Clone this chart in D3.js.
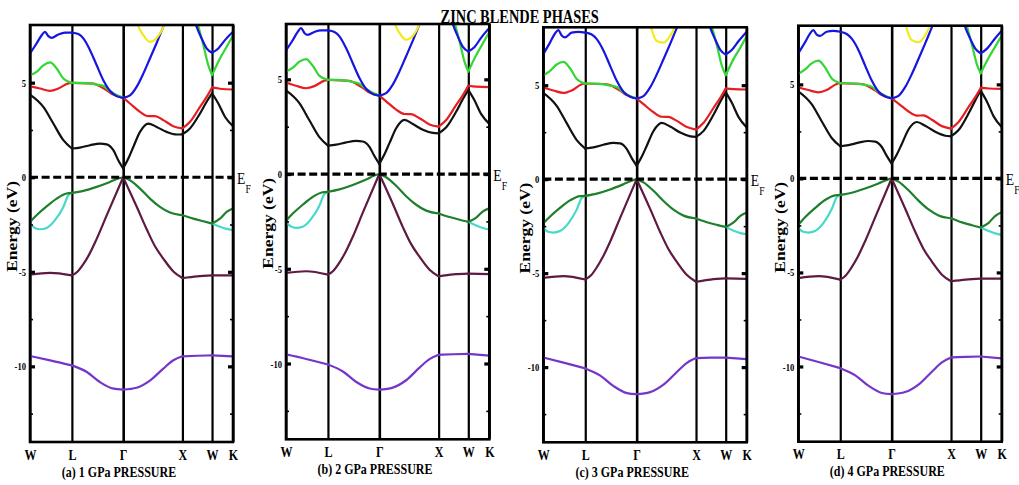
<!DOCTYPE html>
<html>
<head>
<meta charset="utf-8">
<script src="https://cdn.jsdelivr.net/npm/d3@7"></script>
<style>
  html, body { margin: 0; padding: 0; background: #fff; }
  svg { display: block; }
  text { font-family: "Liberation Serif", "Times New Roman", serif; fill: #000; }
</style>
</head>
<body>
<script>
// ---- high-symmetry path W-L-Γ-X-W-K (k in units of 2π/a) ----
const symK = [0, 0.707, 1.573, 2.573, 3.073, 3.427];
const symLabels = ["W", "L", "Γ", "X", "W", "K"];
const panelTitles = ["(a) 1 GPa PRESSURE", "(b) 2 GPa PRESSURE", "(c) 3 GPa PRESSURE", "(d) 4 GPa PRESSURE"];
const yMajorTicks = [-10, -5, 0, 5];
const yMinorTicks = [-12.5, -7.5, -2.5, 2.5];
const chartTitle = "ZINC BLENDE PHASES";

// ---- bands: k points, and energies (eV) for 1, 2, 3, 4 GPa ----
const purpleK = [0, 0.34, 0.707, 0.96, 1.18, 1.41, 1.573, 1.80, 2.03, 2.25, 2.42, 2.573, 2.82, 3.073, 3.427];
const purpleE = [
  [-9.45, -9.68, -9.95, -10.3, -10.83, -11.18, -11.23, -11.13, -10.74, -10.12, -9.68, -9.47, -9.44, -9.42, -9.47],
  [-9.52, -9.76, -10.05, -10.42, -10.96, -11.32, -11.38, -11.27, -10.87, -10.22, -9.77, -9.54, -9.51, -9.49, -9.58],
  [-9.49, -9.76, -10.07, -10.45, -11.0, -11.38, -11.44, -11.33, -10.92, -10.26, -9.77, -9.52, -9.5, -9.49, -9.57],
  [-9.47, -9.76, -10.09, -10.47, -11.02, -11.41, -11.47, -11.36, -10.95, -10.28, -9.78, -9.52, -9.49, -9.47, -9.57]
];

const maroonK = [0, 0.34, 0.707, 0.80, 0.90, 1.0, 1.12, 1.30, 1.573, 1.80, 1.97, 2.11, 2.25, 2.42, 2.573, 2.82, 3.073, 3.427];
const maroonE = [
  [-5.15, -5.06, -5.19, -5.0, -4.6, -4.08, -3.3, -1.98, 0, -1.55, -2.75, -3.65, -4.3, -4.98, -5.33, -5.24, -5.19, -5.19],
  [-5.22, -5.13, -5.31, -5.1, -4.68, -4.14, -3.35, -2.0, 0, -1.57, -2.8, -3.7, -4.36, -5.05, -5.4, -5.3, -5.26, -5.28],
  [-5.25, -5.16, -5.34, -5.13, -4.7, -4.16, -3.37, -2.02, 0, -1.58, -2.82, -3.73, -4.4, -5.1, -5.46, -5.34, -5.28, -5.3],
  [-5.3, -5.2, -5.38, -5.16, -4.72, -4.18, -3.38, -2.03, 0, -1.6, -2.84, -3.75, -4.42, -5.12, -5.47, -5.38, -5.33, -5.33]
];

const darkGreenK = [0, 0.11, 0.281, 0.45, 0.619, 0.707, 0.901, 1.126, 1.35, 1.49, 1.573, 1.688, 1.857, 2.025, 2.194, 2.363, 2.573, 2.757, 2.926, 3.073, 3.207, 3.32, 3.427];
const darkGreenE = [
  [-2.36, -2.01, -1.54, -1.13, -0.86, -0.83, -0.72, -0.51, -0.25, -0.07, 0, -0.16, -0.6, -1.13, -1.57, -1.87, -2.01, -2.19, -2.33, -2.45, -2.19, -1.83, -1.66],
  [-2.47, -2.1, -1.62, -1.21, -0.96, -0.94, -0.81, -0.58, -0.29, -0.08, 0, -0.17, -0.62, -1.17, -1.62, -1.93, -2.08, -2.27, -2.41, -2.52, -2.3, -1.97, -1.81],
  [-2.35, -2.0, -1.53, -1.13, -0.9, -0.89, -0.77, -0.55, -0.27, -0.08, 0, -0.17, -0.62, -1.16, -1.62, -1.94, -2.09, -2.29, -2.43, -2.54, -2.3, -1.95, -1.77],
  [-2.47, -2.08, -1.58, -1.15, -0.9, -0.88, -0.76, -0.54, -0.27, -0.08, 0, -0.17, -0.63, -1.18, -1.65, -1.97, -2.12, -2.34, -2.49, -2.61, -2.36, -1.99, -1.8]
];

// split-off branch, visible on W-L and W-K (null = hidden under the dark green band)
const cyanK = [0, 0.084, 0.169, 0.281, 0.422, 0.563, 0.647, 0.707, 2.0, 3.073, 3.207, 3.32, 3.427];
const cyanE = [
  [-2.48, -2.68, -2.75, -2.68, -2.27, -1.57, -0.95, -0.83, null, -2.45, -2.62, -2.73, -2.8],
  [-2.55, -2.77, -2.84, -2.78, -2.38, -1.67, -1.05, -0.94, null, -2.52, -2.72, -2.85, -2.93],
  [-2.6, -2.8, -2.84, -2.76, -2.35, -1.62, -1.0, -0.89, null, -2.54, -2.75, -2.87, -2.93],
  [-2.63, -2.84, -2.88, -2.8, -2.38, -1.63, -1.0, -0.88, null, -2.61, -2.8, -2.92, -3.0]
];

const blackK = [0, 0.225, 0.394, 0.563, 0.707, 0.844, 1.013, 1.182, 1.294, 1.407, 1.49, 1.573, 1.66, 1.744, 1.857, 1.997, 2.138, 2.307, 2.476, 2.573, 2.701, 2.87, 2.982, 3.073, 3.179, 3.291, 3.427];
const blackE = [
  [4.37, 3.72, 2.84, 1.96, 1.52, 1.57, 1.69, 1.78, 1.74, 1.43, 0.9, 0.46, 0.99, 1.6, 2.4, 2.84, 2.66, 2.4, 2.26, 2.27, 2.58, 3.37, 3.99, 4.43, 3.9, 3.2, 2.7],
  [4.41, 3.74, 2.84, 1.95, 1.5, 1.55, 1.67, 1.75, 1.72, 1.44, 0.95, 0.53, 1.04, 1.63, 2.42, 2.86, 2.64, 2.34, 2.17, 2.15, 2.47, 3.3, 3.96, 4.44, 3.88, 3.16, 2.65],
  [4.59, 3.9, 2.98, 2.08, 1.63, 1.69, 1.83, 1.93, 1.9, 1.6, 1.12, 0.71, 1.2, 1.78, 2.56, 2.99, 2.8, 2.48, 2.28, 2.25, 2.57, 3.44, 4.12, 4.63, 4.05, 3.3, 2.75],
  [4.63, 3.95, 3.04, 2.15, 1.71, 1.77, 1.9, 1.99, 1.96, 1.67, 1.2, 0.79, 1.27, 1.83, 2.6, 3.0, 2.8, 2.48, 2.27, 2.24, 2.57, 3.46, 4.15, 4.67, 4.08, 3.3, 2.73]
];

const redK = [0, 0.169, 0.338, 0.478, 0.647, 0.707, 1.069, 1.182, 1.294, 1.407, 1.573, 1.688, 1.857, 1.997, 2.11, 2.25, 2.419, 2.573, 2.701, 2.87, 2.982, 3.073, 3.207, 3.427];
const redE = [
  [4.81, 4.69, 4.57, 4.69, 4.96, 4.99, 4.95, 4.81, 4.6, 4.37, 4.2, 3.9, 3.46, 3.23, 3.23, 3.02, 2.7, 2.58, 2.93, 3.72, 4.25, 4.75, 4.68, 4.64],
  [4.83, 4.66, 4.53, 4.64, 4.93, 4.97, 4.92, 4.77, 4.55, 4.3, 4.14, 3.84, 3.4, 3.17, 3.16, 2.95, 2.62, 2.5, 2.85, 3.65, 4.17, 4.66, 4.61, 4.59],
  [4.88, 4.72, 4.59, 4.72, 5.05, 5.09, 5.05, 4.92, 4.71, 4.47, 4.29, 3.99, 3.56, 3.32, 3.31, 3.1, 2.77, 2.64, 3.0, 3.8, 4.33, 4.82, 4.79, 4.77],
  [4.85, 4.7, 4.58, 4.7, 5.02, 5.06, 5.02, 4.89, 4.68, 4.44, 4.26, 3.98, 3.56, 3.34, 3.35, 3.12, 2.78, 2.65, 3.0, 3.8, 4.32, 4.81, 4.78, 4.76]
];

const greenK = [0, 0.11, 0.225, 0.338, 0.45, 0.563, 0.707, 0.844, 1.013, 1.126, 1.238, 1.35, 1.573, 2.0, 2.70, 2.84, 2.926, 3.01, 3.073, 3.207, 3.32, 3.427];
const greenE = [
  [5.4, 5.57, 5.92, 6.07, 5.75, 5.22, 4.99, 4.99, 4.96, 4.9, 4.83, 4.55, 4.2, null, 9.3, 8.0, 7.0, 5.92, 5.4, 6.28, 6.9, 7.5],
  [5.41, 5.6, 5.93, 6.07, 5.72, 5.18, 4.97, 4.97, 4.93, 4.86, 4.77, 4.49, 4.14, null, 9.3, 8.0, 7.0, 5.92, 5.41, 6.28, 6.9, 7.5],
  [5.53, 5.75, 6.1, 6.24, 5.9, 5.33, 5.09, 5.08, 5.04, 4.98, 4.9, 4.62, 4.29, null, 9.4, 8.1, 7.1, 6.02, 5.53, 6.4, 7.0, 7.6],
  [5.56, 5.78, 6.12, 6.26, 5.9, 5.32, 5.06, 5.06, 5.03, 4.97, 4.88, 4.6, 4.26, null, 9.4, 8.1, 7.1, 6.05, 5.59, 6.42, 7.02, 7.6]
];

const blueK = [0, 0.11, 0.197, 0.253, 0.31, 0.366, 0.478, 0.591, 0.707, 0.816, 0.901, 1.013, 1.126, 1.238, 1.35, 1.463, 1.573, 1.688, 1.8, 1.913, 2.025, 2.138, 2.25, 2.40, 2.573, 2.70, 2.814, 2.898, 2.982, 3.073, 3.179, 3.291, 3.427];
const blueE = [
  [6.54, 7.07, 7.51, 7.69, 7.46, 7.37, 7.55, 7.65, 7.65, 7.57, 7.34, 6.72, 5.92, 5.13, 4.57, 4.29, 4.2, 4.33, 4.78, 5.48, 6.28, 7.1, 7.95, 9.0, 10.0, 9.2, 7.95, 7.34, 6.81, 6.58, 6.81, 7.25, 7.69],
  [6.52, 7.05, 7.5, 7.71, 7.45, 7.35, 7.5, 7.58, 7.58, 7.5, 7.27, 6.65, 5.85, 5.07, 4.5, 4.23, 4.14, 4.27, 4.72, 5.42, 6.22, 7.04, 7.9, 9.0, 10.0, 9.2, 7.9, 7.25, 6.71, 6.47, 6.71, 7.2, 7.71],
  [6.65, 7.25, 7.75, 7.93, 7.65, 7.54, 7.8, 7.84, 7.8, 7.7, 7.45, 6.85, 6.03, 5.23, 4.65, 4.38, 4.29, 4.42, 4.88, 5.58, 6.38, 7.2, 8.05, 9.1, 10.0, 9.3, 8.05, 7.42, 6.88, 6.63, 6.88, 7.35, 7.85],
  [6.65, 7.22, 7.7, 7.88, 7.65, 7.58, 7.8, 7.85, 7.8, 7.68, 7.43, 6.83, 6.0, 5.2, 4.62, 4.35, 4.26, 4.39, 4.85, 5.55, 6.35, 7.18, 8.03, 9.1, 10.0, 9.3, 8.03, 7.42, 6.9, 6.65, 6.9, 7.35, 7.85]
];

const yellowK = [1.76, 1.828, 1.913, 2.025, 2.11, 2.194, 2.26, 2.32];
const yellowE = [
  [8.9, 8.0, 7.51, 7.16, 7.28, 7.6, 8.0, 8.6],
  [8.9, 8.0, 7.45, 7.09, 7.2, 7.55, 8.0, 8.6],
  [8.9, 7.95, 7.35, 7.26, 7.5, 7.95, 8.5, 9.0],
  [8.9, 7.95, 7.35, 7.24, 7.48, 7.95, 8.5, 9.0]
];

// drawing order: valence bands first, conduction bands on top
const bands = [
  { k: cyanK, e: cyanE, color: "#45d9c9" },
  { k: darkGreenK, e: darkGreenE, color: "#1f7f2c" },
  { k: maroonK, e: maroonE, color: "#5e1a42" },
  { k: purpleK, e: purpleE, color: "#7436c9" },
  { k: blackK, e: blackE, color: "#111111" },
  { k: redK, e: redE, color: "#e61e22" },
  { k: greenK, e: greenE, color: "#33d633" },
  { k: blueK, e: blueE, color: "#1616e0" },
  { k: yellowK, e: yellowE, color: "#f2ea1c" }
];

// ---- panel frames (pixels) and the energy at each frame top ----
const frames = [
  { x0: 30,    x1: 233,    y0: 25,   y1: 442,   eTop: 8.05 },
  { x0: 286,   x1: 489.3,  y0: 24,   y1: 439.3, eTop: 7.92 },
  { x0: 543.3, x1: 746.7,  y0: 27.3, y1: 442.3, eTop: 8.08 },
  { x0: 798.3, x1: 1001.7, y0: 25.7, y1: 441.7, eTop: 8.12 }
];
const eBottom = -14;

const W = 1019, H = 485;
const svg = d3.select("body").append("svg").attr("width", W).attr("height", H);
svg.append("rect").attr("width", W).attr("height", H).attr("fill", "#fff");

// break a band into pieces at every high-symmetry point and at gaps
function bandSegments(ks, es) {
  const segs = [];
  let cur = [];
  for (let i = 0; i < ks.length; i++) {
    if (es[i] === null) { if (cur.length > 1) segs.push(cur); cur = []; continue; }
    cur.push([ks[i], es[i]]);
    const isSym = symK.some(s => Math.abs(s - ks[i]) < 1e-6);
    if (isSym && cur.length > 1) { segs.push(cur); cur = [[ks[i], es[i]]]; }
  }
  if (cur.length > 1) segs.push(cur);
  return segs;
}

// horizontally condensed text helper
function label(parent, x, y, str, size, opts = {}) {
  const sx = opts.sx || 0.8;
  const t = parent.append("text")
    .attr("transform", `translate(${x},${y}) scale(${sx},1)` + (opts.rotate ? ` rotate(${opts.rotate})` : ""))
    .attr("text-anchor", opts.anchor || "middle")
    .attr("font-size", size)
    .attr("font-weight", opts.weight || "bold")
    .text(str);
  return t;
}

frames.forEach((f, p) => {
  const x = d3.scaleLinear().domain([0, 3.427]).range([f.x0, f.x1]);
  const y = d3.scaleLinear().domain([eBottom, f.eTop]).range([f.y1, f.y0]);
  const g = svg.append("g");

  const clipId = "clip" + p;
  svg.append("clipPath").attr("id", clipId)
    .append("rect").attr("x", f.x0).attr("y", f.y0)
    .attr("width", f.x1 - f.x0).attr("height", f.y1 - f.y0);

  // symmetry lines and k-point labels
  const xAxis = d3.axisBottom(x)
    .tickValues(symK)
    .tickFormat((d, i) => symLabels[i])
    .tickSizeInner(-(f.y1 - f.y0))
    .tickSizeOuter(0)
    .tickPadding(7);
  const gx = g.append("g").attr("transform", `translate(0,${f.y1})`).call(xAxis);
  gx.select(".domain").remove();
  gx.selectAll(".tick line").attr("stroke", "#000")
    .attr("stroke-width", (d, i) => i === 2 ? 2.6 : 2.2);
  gx.selectAll(".tick text")
    .attr("font-family", "'Liberation Serif','Times New Roman',serif")
    .attr("font-size", 15).attr("font-weight", "bold").attr("fill", "#000")
    .attr("transform", "scale(0.8,1)");

  // bands
  const line = d3.line().x(d => x(d[0])).y(d => y(d[1])).curve(d3.curveMonotoneX);
  const gb = g.append("g").attr("clip-path", `url(#${clipId})`);
  bands.forEach(b => {
    bandSegments(b.k, b.e[p]).forEach(seg => {
      gb.append("path").attr("d", line(seg))
        .attr("fill", "none").attr("stroke", b.color)
        .attr("stroke-width", 2.2).attr("stroke-linejoin", "round").attr("stroke-linecap", "round");
    });
  });

  // Fermi level
  g.append("line")
    .attr("x1", f.x0).attr("x2", f.x1).attr("y1", y(0)).attr("y2", y(0))
    .attr("stroke", "#000").attr("stroke-width", 3.2).attr("stroke-dasharray", "8,3.6");

  // frame
  g.append("rect").attr("x", f.x0).attr("y", f.y0)
    .attr("width", f.x1 - f.x0).attr("height", f.y1 - f.y0)
    .attr("fill", "none").attr("stroke", "#000").attr("stroke-width", 2.6);

  // energy ticks on both sides, pointing inward
  const left = g.append("g").attr("transform", `translate(${f.x0},0)`)
    .call(d3.axisLeft(y).tickValues(yMajorTicks).tickFormat(d => String(d))
      .tickSizeInner(-5).tickSizeOuter(0).tickPadding(4));
  left.select(".domain").remove();
  left.selectAll(".tick line").attr("stroke", "#000").attr("stroke-width", 3.2);
  left.selectAll(".tick text")
    .attr("font-family", "'Liberation Serif','Times New Roman',serif")
    .attr("font-size", 11).attr("font-weight", "bold").attr("fill", "#000")
    .attr("x", -4 / 0.78).attr("transform", "scale(0.78,1)");

  const leftMinor = g.append("g").attr("transform", `translate(${f.x0},0)`)
    .call(d3.axisLeft(y).tickValues(yMinorTicks).tickFormat("")
      .tickSizeInner(-3).tickSizeOuter(0));
  leftMinor.select(".domain").remove();
  leftMinor.selectAll(".tick line").attr("stroke", "#000").attr("stroke-width", 1.6);

  const right = g.append("g").attr("transform", `translate(${f.x1},0)`)
    .call(d3.axisRight(y).tickValues(yMajorTicks).tickFormat("")
      .tickSizeInner(-5).tickSizeOuter(0));
  right.select(".domain").remove();
  right.selectAll(".tick line").attr("stroke", "#000").attr("stroke-width", 3.2);

  const rightMinor = g.append("g").attr("transform", `translate(${f.x1},0)`)
    .call(d3.axisRight(y).tickValues(yMinorTicks).tickFormat("")
      .tickSizeInner(-3).tickSizeOuter(0));
  rightMinor.select(".domain").remove();
  rightMinor.selectAll(".tick line").attr("stroke", "#000").attr("stroke-width", 1.6);

  // axis title
  label(g, f.x0 - 13.5, y(-2.6), "Energy (eV)", 17.5, { sx: 0.78, rotate: -90 });

  // Fermi level marker
  label(g, f.x1 + 4, y(0) + 7, "E", 17, { anchor: "start", weight: "normal" });
  label(g, f.x1 + 12.5, y(0) + 16, "F", 12, { anchor: "start", weight: "normal" });

  // panel caption
  label(g, f.x0 + 89, f.y1 + 34.5, panelTitles[p], 15, { sx: 0.8 });
});

// figure title
label(svg, 519.7, 22.5, chartTitle, 18, { sx: 0.8 });
</script>
</body>
</html>
